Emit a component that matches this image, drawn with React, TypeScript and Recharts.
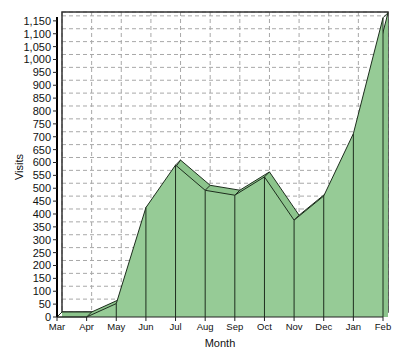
import { AreaChart, Area, XAxis, YAxis, CartesianGrid, ReferenceArea } from "recharts";

const months = ["Mar", "Apr", "May", "Jun", "Jul", "Aug", "Sep", "Oct", "Nov", "Dec", "Jan", "Feb"];
const visits = [0, 0, 52, 425, 590, 492, 473, 544, 376, 470, 712, 1162];
const yTicks = [
  0, 50, 100, 150, 200, 250, 300, 350, 400, 450, 500, 550,
  600, 650, 700, 750, 800, 850, 900, 950, 1000, 1050, 1100, 1150,
];

const data = months.map((m, i) => ({ month: m, visits: visits[i] }));

const W = 400;
const H = 356;
const DEPTH = 5;
const MARGIN = { top: 17, right: 17, bottom: 9, left: 5 };
const X_AXIS_H = 30;
const Y_AXIS_W = 52;
const Y_MAX = 1165;
const BASE_Y = H - MARGIN.bottom - X_AXIS_H;
// value that sits DEPTH px below zero, so the back face also paints the floor
const FLOOR = -(DEPTH * Y_MAX) / (BASE_Y - MARGIN.top);
const FONT = "'Liberation Sans', Arial, sans-serif";

const NoTick = () => <g />;

// vertical edge from a front vertex down to the floor
function DropLine(props: any) {
  const { cx, cy, index } = props;
  if (cx == null || cy == null) return null;
  return <line key={`drop-${index}`} x1={cx} y1={cy} x2={cx} y2={BASE_Y} stroke="#1e2e1e" strokeWidth={1} />;
}

// short diagonal joining back vertex to front vertex
function DepthLine(props: any) {
  const { cx, cy, index } = props;
  if (cx == null || cy == null) return null;
  return (
    <line key={`depth-${index}`} x1={cx} y1={cy} x2={cx - DEPTH} y2={cy + DEPTH} stroke="#1e2e1e" strokeWidth={1} />
  );
}

export default function App() {
  const domain: [number, number] = [0, Y_MAX];
  return (
    <div style={{ position: "fixed", left: 0, top: 0, width: W, height: H, background: "#fff", fontFamily: FONT }}>
      {/* back wall: grid, frame and the back face of the area */}
      <div style={{ position: "absolute", left: DEPTH, top: -DEPTH }}>
        <AreaChart width={W} height={H} data={data} margin={MARGIN}>
          <CartesianGrid stroke="#a8a8a8" strokeDasharray="4 3" />
          <XAxis
            dataKey="month"
            height={X_AXIS_H}
            interval={0}
            padding={{ left: 0, right: 0 }}
            tick={<NoTick />}
            tickLine={false}
            axisLine={false}
          />
          <YAxis
            width={Y_AXIS_W}
            domain={domain}
            ticks={yTicks}
            interval={0}
            tick={<NoTick />}
            tickLine={false}
            axisLine={false}
          />
          <ReferenceArea x1="Mar" x2="Feb" y1={0} y2={Y_MAX} fill="none" stroke="#333" strokeWidth={1.5} />
          <Area
            type="linear"
            dataKey="visits"
            baseValue={FLOOR}
            fill="#8cc48c"
            fillOpacity={1}
            stroke="#1e2e1e"
            strokeWidth={1}
            dot={<DepthLine />}
            activeDot={false}
            isAnimationActive={false}
          />
        </AreaChart>
      </div>
      {/* front face with axes */}
      <div style={{ position: "absolute", left: 0, top: 0 }}>
        <AreaChart width={W} height={H} data={data} margin={MARGIN}>
          <XAxis
            dataKey="month"
            height={X_AXIS_H}
            interval={0}
            padding={{ left: 0, right: 0 }}
            tick={{ fontSize: 9.5, fill: "#111", fontFamily: FONT }}
            tickSize={4}
            stroke="#222"
            label={{ value: "Month", position: "insideBottom", offset: 0, fontSize: 11, fill: "#111", fontFamily: FONT }}
          />
          <YAxis
            width={Y_AXIS_W}
            domain={domain}
            ticks={yTicks}
            interval={0}
            tickFormatter={(v: number) => v.toLocaleString("en-US")}
            tick={{ fontSize: 11, fill: "#111", fontFamily: FONT }}
            tickSize={4}
            axisLine={{ stroke: "#000", strokeWidth: 2 }}
            tickLine={{ stroke: "#222" }}
            label={{
              value: "Visits",
              angle: -90,
              position: "insideLeft",
              offset: 14,
              textAnchor: "middle",
              fontSize: 11,
              fill: "#111",
              fontFamily: FONT,
            }}
          />
          <Area
            type="linear"
            dataKey="visits"
            fill="#96cb96"
            fillOpacity={1}
            stroke="#1e2e1e"
            strokeWidth={1}
            dot={<DropLine />}
            activeDot={false}
            isAnimationActive={false}
          />
        </AreaChart>
      </div>
    </div>
  );
}
